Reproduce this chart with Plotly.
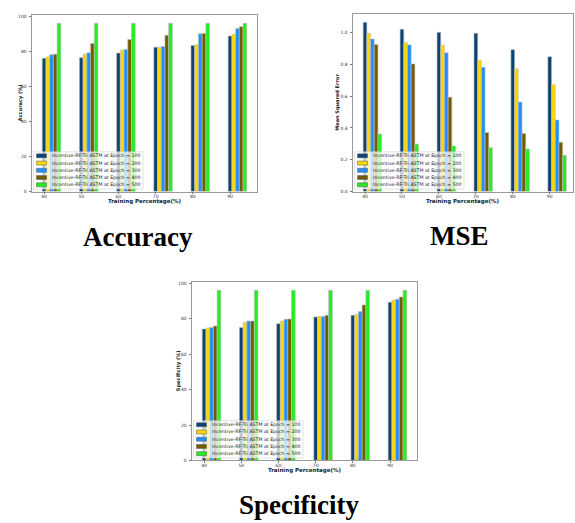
import plotly.graph_objects as go

# ---------------- data ----------------
training = [40, 50, 60, 70, 80, 90]
epochs = [100, 200, 300, 400, 500]
series_names = [f"Incentive-RF-Tri ASTM at Epoch = {e}" for e in epochs]
colors = ["#0b4474", "#ffd700", "#1e90ff", "#725c00", "#22ee22"]

acc_e100 = [76.0, 76.4, 79.0, 82.4, 83.4, 88.7]
acc_e200 = [76.7, 78.4, 80.7, 82.4, 83.7, 89.8]
acc_e300 = [78.1, 79.2, 81.1, 82.8, 90.0, 93.0]
acc_e400 = [78.4, 84.5, 86.8, 89.2, 90.2, 94.1]
acc_e500 = [96.0, 96.0, 96.0, 96.0, 96.0, 96.0]

mse_e100 = [1.065, 1.021, 1.002, 0.996, 0.893, 0.849]
mse_e200 = [0.996, 0.937, 0.921, 0.826, 0.772, 0.672]
mse_e300 = [0.960, 0.923, 0.874, 0.782, 0.563, 0.450]
mse_e400 = [0.925, 0.803, 0.594, 0.372, 0.366, 0.310]
mse_e500 = [0.362, 0.299, 0.287, 0.276, 0.268, 0.228]

spe_e100 = [74.2, 75.0, 77.2, 81.0, 81.9, 89.3]
spe_e200 = [74.8, 78.0, 78.7, 81.2, 82.5, 90.4]
spe_e300 = [75.0, 78.7, 79.7, 81.2, 84.0, 91.0]
spe_e400 = [75.9, 78.7, 79.8, 81.9, 87.8, 92.3]
spe_e500 = [96.0, 96.0, 96.0, 96.0, 96.0, 96.0]

y_ticks_pct = [0, 20, 40, 60, 80, 100]
y_ticks_mse = [0.0, 0.2, 0.4, 0.6, 0.8, 1.0]

# ---------------- layout helpers ----------------
W, H = 575, 523


def px(x):
    return x / W


def py(y):
    return 1 - y / H


panels = [
    dict(name="Accuracy", ylabel="Accuracy (%)", series=[acc_e100, acc_e200, acc_e300, acc_e400, acc_e500],
         box=(32, 257, 14, 192), xr=[36.75, 97.25], yr=[0, 100.8], yt=y_ticks_pct, yfmt=None,
         ylab_x=20, title_xy=(138, 238)),
    dict(name="MSE", ylabel="Mean Squared Error", series=[mse_e100, mse_e200, mse_e300, mse_e400, mse_e500],
         box=(353, 573, 13, 192), xr=[36.75, 96.3], yr=[0, 1.118], yt=y_ticks_mse, yfmt=".1f",
         ylab_x=338, title_xy=(459, 237)),
    dict(name="Specificity", ylabel="Specificity (%)", series=[spe_e100, spe_e200, spe_e300, spe_e400, spe_e500],
         box=(192, 417, 283, 463), xr=[36.75, 97.25], yr=[0, 100.8], yt=y_ticks_pct, yfmt=None,
         ylab_x=178, title_xy=(299, 508)),
]

fig = go.Figure()
shapes = []
annotations = []
layout_axes = {}

tick_font = dict(family="DejaVu Sans", size=4.5, color="#333")

for k, p in enumerate(panels):
    sfx = "" if k == 0 else str(k + 1)
    xa, ya = "x" + sfx, "y" + sfx
    x0, x1, y0, y1 = p["box"]
    for i, (vals, nm, col) in enumerate(zip(p["series"], series_names, colors)):
        fig.add_trace(go.Bar(
            x=training, y=vals, name=nm, offset=i - 0.5, width=1,
            marker=dict(color=col, line=dict(color="#bdbdbd", width=0.6)),
            xaxis=xa, yaxis=ya, showlegend=False,
        ))
    layout_axes["xaxis" + sfx] = dict(
        domain=[px(x0), px(x1)], range=p["xr"], anchor=ya,
        tickmode="array", tickvals=training, ticktext=[str(t) for t in training],
        showline=True, mirror=True, linecolor="#9a9a9a", linewidth=0.8,
        ticks="outside", ticklen=2, tickwidth=0.6, tickcolor="#777",
        showgrid=False, zeroline=False, tickfont=tick_font, ticklabelstandoff=-2,
    )
    layout_axes["yaxis" + sfx] = dict(
        domain=[py(y1), py(y0)], range=p["yr"], anchor=xa,
        tickmode="array", tickvals=p["yt"],
        tickformat=p["yfmt"] if p["yfmt"] else None,
        showline=True, mirror=True, linecolor="#9a9a9a", linewidth=0.8,
        ticks="outside", ticklen=2.5, tickwidth=0.6, tickcolor="#777",
        showgrid=False, zeroline=False, tickfont=tick_font, ticklabelstandoff=1,
    )
    # axis titles
    annotations.append(dict(
        x=px((x0 + x1) / 2), y=py(y1 + 10), xref="paper", yref="paper",
        text="<b>Training Percentage(%)</b>", showarrow=False,
        font=dict(family="DejaVu Sans", size=5.5, color="#222"),
        xanchor="center", yanchor="middle",
    ))
    annotations.append(dict(
        x=px(p["ylab_x"]), y=py((y0 + y1) / 2), xref="paper", yref="paper",
        text="<b>" + p["ylabel"] + "</b>", showarrow=False, textangle=-90,
        font=dict(family="DejaVu Sans", size=5, color="#222"),
        xanchor="center", yanchor="middle",
    ))
    # panel caption
    tx, ty = p["title_xy"]
    annotations.append(dict(
        x=px(tx), y=py(ty), xref="paper", yref="paper",
        text="<b>" + p["name"] + "</b>", showarrow=False,
        font=dict(family="Liberation Serif", size=27, color="#000"),
        xanchor="center", yanchor="middle",
    ))
    # legend (drawn in lower-left of the axes)
    lx0, lx1 = x0 + 1.5, x0 + 111
    ly1 = y1 - 2.5
    ly0 = ly1 - 37.5
    shapes.append(dict(
        type="rect", xref="paper", yref="paper", layer="above",
        x0=px(lx0), x1=px(lx1), y0=py(ly1), y1=py(ly0),
        fillcolor="rgba(255,255,255,0.72)", line=dict(color="#cccccc", width=0.6),
    ))
    for i, (nm, col) in enumerate(zip(series_names, colors)):
        cy = ly0 + 4 + i * 7.3
        shapes.append(dict(
            type="rect", xref="paper", yref="paper", layer="above",
            x0=px(lx0 + 3), x1=px(lx0 + 13), y0=py(cy + 2), y1=py(cy - 2),
            fillcolor=col, line=dict(color="#555", width=0.5),
        ))
        annotations.append(dict(
            x=px(lx0 + 16.5), y=py(cy), xref="paper", yref="paper",
            text=nm, showarrow=False, xanchor="left", yanchor="middle",
            font=dict(family="DejaVu Sans", size=4.7, color="#222"),
        ))

fig.update_layout(
    width=W, height=H, margin=dict(l=0, r=0, t=0, b=0),
    paper_bgcolor="white", plot_bgcolor="white",
    barmode="overlay", showlegend=False,
    shapes=shapes, annotations=annotations,
    **layout_axes,
)

fig.write_html(
    "out.html",
    config={"displayModeBar": False},
    post_script="document.body.style.margin='0';document.body.style.padding='0';",
)
